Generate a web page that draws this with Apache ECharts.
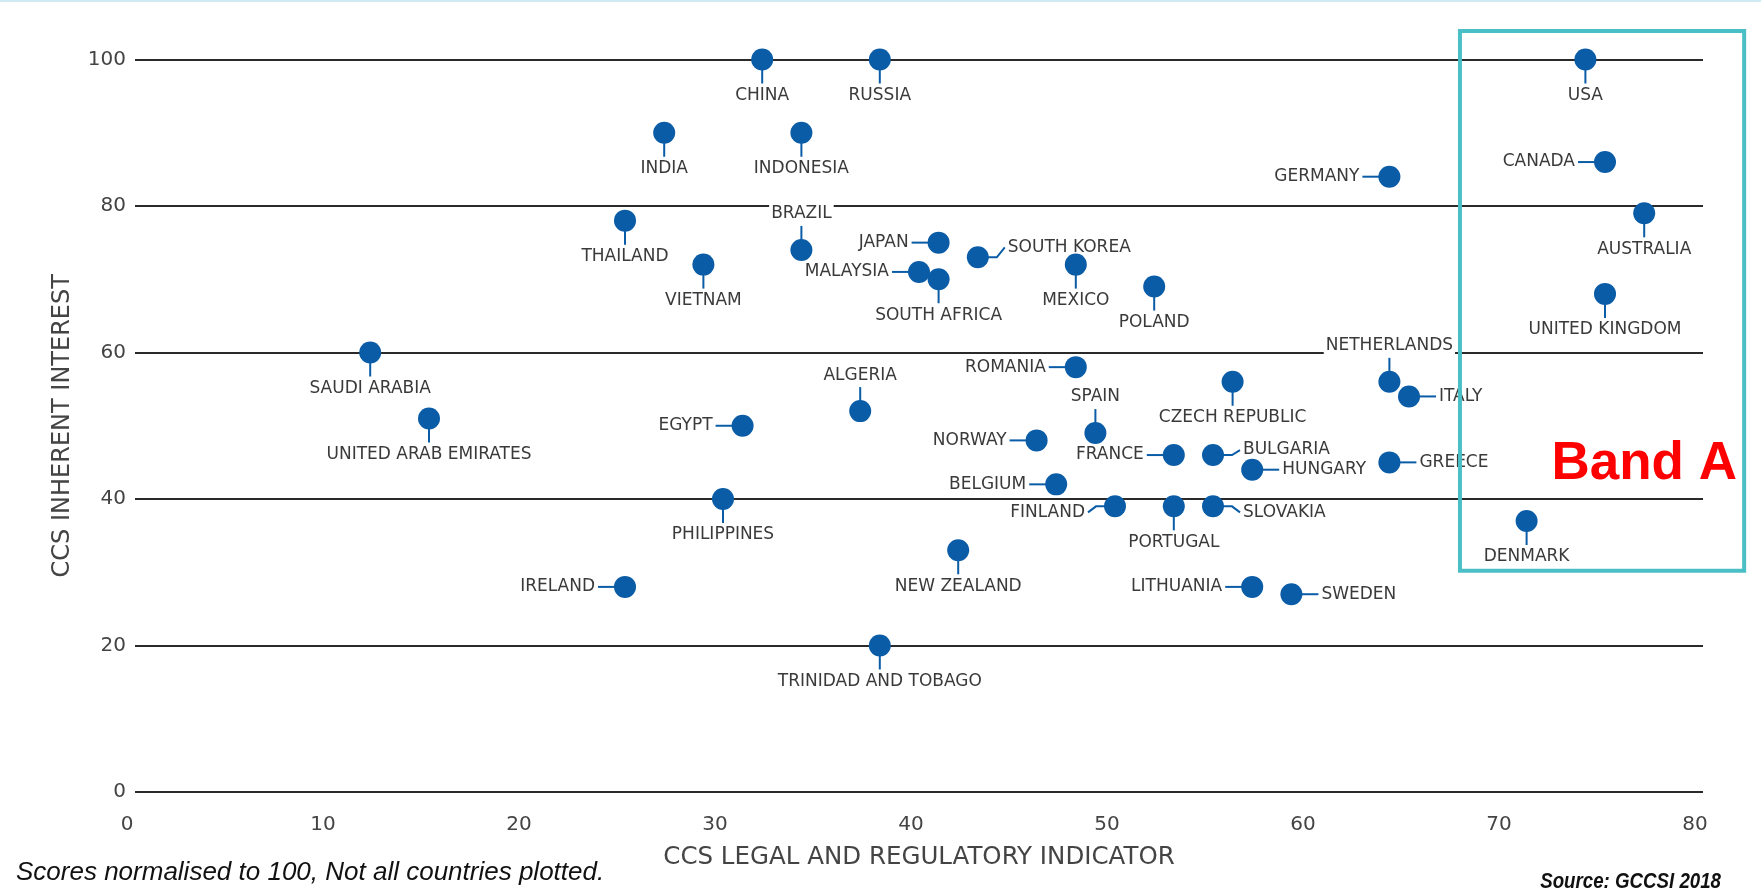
<!DOCTYPE html>
<html><head><meta charset="utf-8">
<script src="https://cdn.jsdelivr.net/npm/echarts@6/dist/echarts.min.js"></script>
<style>html,body{margin:0;padding:0;background:#fff;}#c{width:1761px;height:892px;}</style>
</head><body><div id="c"></div>
<script>
// ---- data ----
const countries = ['CHINA','RUSSIA','INDIA','INDONESIA','GERMANY','USA','CANADA','AUSTRALIA','UNITED KINGDOM','THAILAND','BRAZIL','JAPAN','MALAYSIA','SOUTH AFRICA','SOUTH KOREA','VIETNAM','MEXICO','POLAND','SAUDI ARABIA','UNITED ARAB EMIRATES','ROMANIA','NETHERLANDS','ITALY','CZECH REPUBLIC','ALGERIA','EGYPT','SPAIN','NORWAY','FRANCE','BULGARIA','HUNGARY','GREECE','BELGIUM','PHILIPPINES','FINLAND','PORTUGAL','SLOVAKIA','DENMARK','NEW ZEALAND','IRELAND','LITHUANIA','SWEDEN','TRINIDAD AND TOBAGO'];
const legalIndicator = [32,38,27,34,64,74,75,77,75,25,34,41,40,41,43,29,48,52,12,15,48,64,65,56,37,31,49,46,53,55,57,64,47,30,50,53,55,71,42,25,57,59,38];
const inherentInterest = [100,100,90,90,84,100,86,79,68,78,74,75,71,70,73,72,72,69,60,51,58,56,54,56,52,50,49,48,46,46,44,45,42,40,39,39,39,37,33,28,28,27,20];
const xTickRange = [0, 80, 10];
const yTickRange = [0, 100, 20];
const bandA = { label: 'Band A', xFrom: 67.6, xTo: 82.1, yFrom: 30.2, yTo: 103.9, textX: 77.0, textY: 44.7 };

// ---- label placement (style) ----
const labelSide = ['b','b','b','b','l','b','l','b','b','b','t','l','l','b','r','b','b','b','b','b','l','t','r','b','t','l','t','l','l','r','r','r','l','b','l','b','r','b','b','l','l','r','b'];
const labelNudge = { 'SOUTH KOREA': -10, 'BULGARIA': -5, 'SLOVAKIA': 6, 'FINLAND': 6 };

const BLUE = '#0a5ca6';
const FONT = '"DejaVu Sans", "Open Sans", sans-serif';
const R = 11, GAP = 28, VOFF = 36;

const points = legalIndicator.map((x, i) => [x, inherentInterest[i]]);

function renderLabel(params, api) {
  const i = params.dataIndex;
  const p = api.coord([api.value(0), api.value(1)]);
  const side = labelSide[i];
  const nudge = labelNudge[countries[i]] || 0;
  let tx, ty, align, pts;
  if (side === 'b') {
    tx = p[0]; ty = p[1] + VOFF; align = 'center';
    pts = [[p[0], p[1]], [p[0], p[1] + 24]];
  } else if (side === 't') {
    tx = p[0]; ty = p[1] - VOFF; align = 'center';
    pts = [[p[0], p[1]], [p[0], p[1] - 24]];
  } else if (side === 'l') {
    tx = p[0] - GAP; ty = p[1] + nudge; align = 'right';
    pts = nudge ? [[p[0], p[1]], [p[0] - GAP + 9, p[1]], [p[0] - GAP + 1, p[1] + nudge]]
                : [[p[0], p[1]], [p[0] - GAP + 1, p[1]]];
  } else {
    tx = p[0] + GAP; ty = p[1] + nudge; align = 'left';
    pts = nudge ? [[p[0], p[1]], [p[0] + GAP - 9, p[1]], [p[0] + GAP - 1, p[1] + nudge]]
                : [[p[0], p[1]], [p[0] + GAP - 1, p[1]]];
  }
  return {
    type: 'group',
    children: [
      { type: 'polyline', shape: { points: pts }, style: { stroke: BLUE, lineWidth: 2, fill: null } },
      { type: 'text', z2: 5, style: {
          text: countries[i], x: tx, y: ty, align: align, verticalAlign: 'middle',
          fill: '#3a3a3a', fontSize: 17, fontFamily: FONT,
          backgroundColor: '#fff', padding: [1, 2] } }
    ]
  };
}

function renderMarker(params, api) {
  const p = api.coord([api.value(0), api.value(1)]);
  return { type: 'circle', shape: { cx: p[0], cy: p[1], r: R }, style: { fill: BLUE } };
}

const chart = echarts.init(document.getElementById('c'), null, { renderer: 'canvas' });
const axisFont = { fontSize: 20, color: '#444', fontFamily: FONT };
chart.setOption({
  animation: false,
  backgroundColor: '#fff',
  grid: { left: 135, right: 58, top: 59.5, bottom: 100, containLabel: false },
  xAxis: {
    type: 'value', min: xTickRange[0], max: xTickRange[1], interval: xTickRange[2],
    axisLine: { show: false }, axisTick: { show: false }, splitLine: { show: false },
    axisLabel: Object.assign({ margin: 23, padding: [0, 16, 0, 0] }, axisFont),
    name: 'CCS LEGAL AND REGULATORY INDICATOR', nameLocation: 'middle', nameGap: 53,
    nameTextStyle: { fontSize: 24.5, color: '#444', fontFamily: FONT }
  },
  yAxis: {
    type: 'value', min: yTickRange[0], max: yTickRange[1], interval: yTickRange[2],
    axisLine: { show: false }, axisTick: { show: false },
    splitLine: { show: true, lineStyle: { color: '#2a2a2a', width: 2 } },
    axisLabel: Object.assign({ margin: 9 }, axisFont),
    name: 'CCS INHERENT INTEREST', nameLocation: 'middle', nameRotate: 90, nameGap: 60,
    nameTextStyle: { fontSize: 24, color: '#444', fontFamily: FONT }
  },
  series: [
    { type: 'custom', z: 2, renderItem: renderLabel, data: points, clip: false },
    { type: 'custom', z: 3, renderItem: renderMarker, data: points, clip: false }
  ]
});

const tl = chart.convertToPixel({ gridIndex: 0 }, [bandA.xFrom, bandA.yTo]);
const br = chart.convertToPixel({ gridIndex: 0 }, [bandA.xTo, bandA.yFrom]);
const tp = chart.convertToPixel({ gridIndex: 0 }, [bandA.textX, bandA.textY]);
chart.setOption({
  graphic: [
    { type: 'rect', z: 0, shape: { x: 0, y: 0, width: 1761, height: 2 }, style: { fill: '#cfeaf5' } },
    { type: 'rect', z: 100, shape: { x: tl[0], y: tl[1], width: br[0] - tl[0], height: br[1] - tl[1] },
      style: { fill: null, stroke: '#4bbfc6', lineWidth: 4 } },
    { type: 'text', z: 101, style: { text: bandA.label, x: tp[0], y: tp[1], align: 'center', verticalAlign: 'middle',
      fill: '#ff0000', font: 'bold 53px "Liberation Sans", Arial, sans-serif' } },
    { type: 'text', z: 101, style: { text: 'Scores normalised to 100, Not all countries plotted.', x: 16, y: 873,
      align: 'left', verticalAlign: 'middle', fill: '#111', font: 'italic 26px "Liberation Sans", Arial, sans-serif' } },
    { type: 'text', z: 101, x: 1721, y: 882, scaleX: 0.85, style: { text: 'Source: GCCSI 2018', x: 0, y: 0,
      align: 'right', verticalAlign: 'middle', fill: '#111', font: 'italic bold 22px "Liberation Sans", Arial, sans-serif' } }
  ]
});
</script>
</body></html>
